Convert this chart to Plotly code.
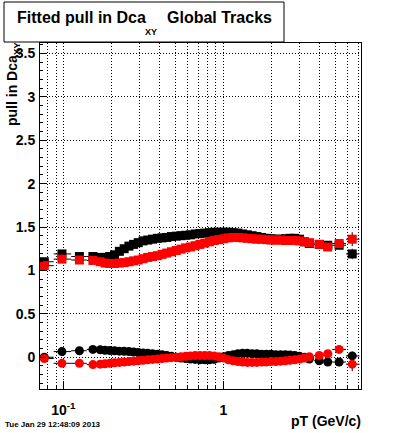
import plotly.graph_objects as go

# ---- data ----
pt = [0.076, 0.098, 0.126, 0.153,
      0.170, 0.182, 0.195, 0.209, 0.224, 0.240, 0.257, 0.275, 0.294, 0.315,
      0.337, 0.361, 0.387, 0.414, 0.443, 0.474, 0.508, 0.544, 0.582, 0.623,
      0.667, 0.714, 0.765, 0.819, 0.877, 0.939, 1.005, 1.076, 1.152, 1.234,
      1.321, 1.414, 1.514, 1.621, 1.736, 1.859, 1.990, 2.131, 2.282, 2.443,
      2.616, 2.801, 2.999, 3.211, 3.45,
      3.98, 4.50, 5.30, 6.40]

black_sq = [1.10, 1.19, 1.16, 1.16,
            1.15, 1.15, 1.16, 1.18, 1.22, 1.25, 1.28, 1.30, 1.32, 1.34,
            1.35, 1.36, 1.37, 1.375, 1.38, 1.39, 1.395, 1.40, 1.405, 1.41,
            1.42, 1.425, 1.43, 1.435, 1.44, 1.44, 1.44, 1.44, 1.435, 1.43,
            1.42, 1.41, 1.40, 1.39, 1.38, 1.37, 1.365, 1.36, 1.36, 1.365,
            1.37, 1.37, 1.36, 1.33, 1.31,
            1.30, 1.29, 1.29, 1.19]

red_sq = [1.055, 1.13, 1.12, 1.115,
          1.10, 1.085, 1.08, 1.08, 1.085, 1.09, 1.10, 1.11, 1.12, 1.135,
          1.15, 1.16, 1.17, 1.185, 1.20, 1.215, 1.23, 1.245, 1.26, 1.27,
          1.285, 1.30, 1.315, 1.33, 1.345, 1.355, 1.365, 1.375, 1.38, 1.38,
          1.375, 1.37, 1.365, 1.36, 1.36, 1.355, 1.35, 1.35, 1.35, 1.345,
          1.345, 1.345, 1.34, 1.33, 1.32,
          1.30, 1.27, 1.31, 1.36]

black_ci = [0.0, 0.065, 0.075, 0.09,
            0.085, 0.08, 0.078, 0.075, 0.07, 0.068, 0.065, 0.06, 0.055, 0.05,
            0.045, 0.04, 0.035, 0.03, 0.02, 0.01, 0.0, -0.01, -0.015, -0.02,
            -0.025, -0.03, -0.03, -0.03, -0.025, -0.01, 0.005, 0.02, 0.03, 0.04,
            0.045, 0.045, 0.04, 0.04, 0.035, 0.035, 0.035, 0.03, 0.03, 0.03,
            0.025, 0.02, 0.01, 0.0, -0.02,
            -0.04, -0.055, -0.055, 0.015]

red_ci = [-0.015, -0.07, -0.07, -0.085,
          -0.08, -0.075, -0.07, -0.065, -0.06, -0.055, -0.05, -0.045, -0.04, -0.035,
          -0.03, -0.025, -0.02, -0.015, -0.01, -0.005, 0.0, 0.005, 0.01, 0.015,
          0.02, 0.02, 0.02, 0.02, 0.015, 0.005, -0.01, -0.03, -0.04, -0.05,
          -0.055, -0.06, -0.06, -0.06, -0.055, -0.055, -0.05, -0.05, -0.045, -0.04,
          -0.035, -0.03, -0.02, -0.01, 0.005,
          0.02, 0.04, 0.09, -0.08]

# bin edges for the sparse bins (x error bars)
low_edges = [0.065, 0.087, 0.112, 0.140, 0.165]
tail_edges = [3.33, 3.70, 4.25, 4.80, 5.85, 7.10]

# y errors of the last bins (others are hidden under markers)
err_tail_black_sq = {5.30: 0.02, 6.40: 0.06}
err_tail_red_sq = {5.30: 0.02, 6.40: 0.08}
err_tail_black_ci = {5.30: 0.02, 6.40: 0.05}
err_tail_red_ci = {5.30: 0.02, 6.40: 0.08}

x_major = [0.1, 1]
x_major_text = ["10<sup>-1</sup>", "1"]
x_minor = [0.08, 0.09, 0.2, 0.3, 0.4, 0.5, 0.6, 0.7, 0.8, 0.9, 2, 3, 4, 5, 6, 7]

# ---- build bin edges for all points ----
n = len(pt)
edges = list(low_edges)
dense = pt[4:n - 5]
for i in range(len(dense) - 1):
    edges.append((dense[i] * dense[i + 1]) ** 0.5)
edges += tail_edges
ex_plus = [edges[i + 1] - pt[i] for i in range(n)]
ex_minus = [pt[i] - edges[i] for i in range(n)]


def yerr(d):
    return [d.get(p, 0.008) for p in pt]


W, H = 400, 433
L, R, T, B = 40, 361, 43, 389


def px(x):
    return (x - L) / (R - L)


def py(y):
    return (B - y) / (B - T)


fig = go.Figure()


def add(yvals, color, symbol, errd):
    fig.add_trace(go.Scatter(
        x=pt, y=yvals, mode="markers",
        marker=dict(symbol=symbol, size=9, color=color, line=dict(width=0)),
        error_x=dict(type="data", array=ex_plus, arrayminus=ex_minus,
                     color="black", thickness=1, width=0),
        error_y=dict(type="data", array=yerr(errd), color="black",
                     thickness=1, width=0),
        showlegend=False, cliponaxis=True, hoverinfo="skip"))


add(black_sq, "#000000", "square", err_tail_black_sq)
add(red_sq, "#ff0000", "square", err_tail_red_sq)
add(black_ci, "#000000", "circle", err_tail_black_ci)
add(red_ci, "#ff0000", "circle", err_tail_red_ci)

font_b = dict(family="Liberation Sans", size=14, color="black", weight="bold")

fig.update_layout(
    width=W, height=H,
    margin=dict(l=L, r=W - R, t=T, b=H - B, pad=0),
    paper_bgcolor="white", plot_bgcolor="white",
    xaxis=dict(
        type="log", range=[-1.146, 0.861],
        tickmode="array", tickvals=x_major, ticktext=x_major_text,
        ticks="inside", ticklen=8, tickcolor="black", tickwidth=1,
        showgrid=True, gridcolor="black", griddash="1px,2px", gridwidth=1,
        showline=True, linecolor="black", linewidth=1, mirror=True,
        zeroline=False, tickfont=font_b, ticklabelstandoff=8,
        minor=dict(tickmode="array", tickvals=x_minor, ticks="inside",
                   ticklen=4, tickcolor="black", showgrid=True,
                   gridcolor="black", griddash="1px,2px", gridwidth=1),
    ),
    yaxis=dict(
        range=[-0.366, 3.62], tick0=0, dtick=0.5,
        ticks="inside", ticklen=6, tickcolor="black", tickwidth=1,
        showgrid=True, gridcolor="black", griddash="1px,2px", gridwidth=1,
        showline=True, linecolor="black", linewidth=1, mirror=True,
        zeroline=False, tickfont=font_b, ticklabelstandoff=1,
        minor=dict(dtick=0.1, ticks="inside", ticklen=3, tickcolor="black",
                   showgrid=False),
    ),
)

# title box
fig.add_shape(type="rect", xref="paper", yref="paper",
              x0=px(4), x1=px(284), y0=py(42), y1=py(2),
              line=dict(color="black", width=1), fillcolor="white", layer="above")

ann = []
ann.append(dict(text="Fitted pull in Dca", x=px(15), y=py(17.5), xanchor="left",
                yanchor="middle",
                font=dict(family="Liberation Sans", size=16, color="black", weight="bold")))
ann.append(dict(text="XY", x=px(142.5), y=py(31.5), xanchor="left", yanchor="middle",
                font=dict(family="Liberation Sans", size=9, color="black", weight="bold")))
ann.append(dict(text="Global Tracks", x=px(165), y=py(17.5), xanchor="left",
                yanchor="middle",
                font=dict(family="Liberation Sans", size=16, color="black", weight="bold")))
ann.append(dict(text="pull in Dca<sub>XY</sub>", x=px(13), y=py(40), textangle=-90,
                xanchor="center", yanchor="top", font=font_b))
ann.append(dict(text="pT (GeV/c)", x=px(363), y=py(421.5), xanchor="right",
                yanchor="middle", font=font_b))
ann.append(dict(text="Tue Jan 29 12:48:09 2013", x=px(3), y=py(424), xanchor="left",
                yanchor="middle",
                font=dict(family="Liberation Sans", size=8, color="black", weight="bold")))
for a in ann:
    a.update(xref="paper", yref="paper", showarrow=False)
    fig.add_annotation(**a)

fig.write_html(
    "out.html",
    config={"displayModeBar": False, "staticPlot": True},
    post_script="document.body.style.margin='0';document.body.style.padding='0';",
)
